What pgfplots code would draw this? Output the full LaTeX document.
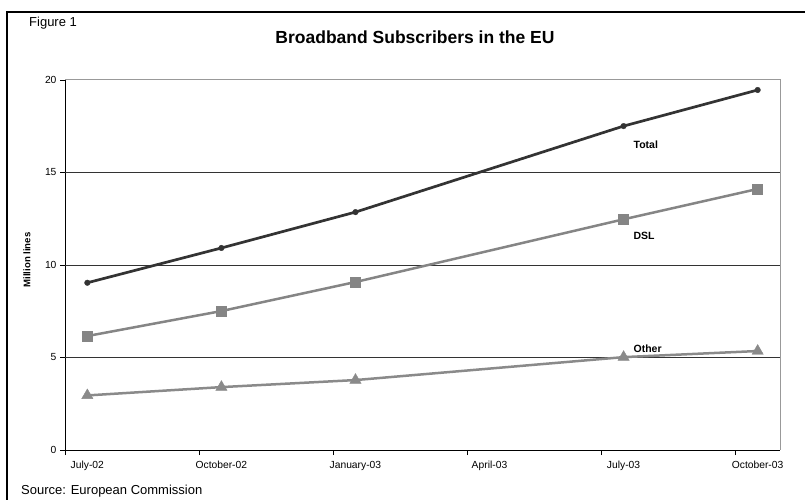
\documentclass[border=0pt]{standalone}
\usepackage{fontspec}
\setmainfont{Liberation Sans}
\usepackage{pgfplots}
\pgfplotsset{compat=1.18}
\definecolor{totalc}{HTML}{333333}
\definecolor{dslc}{HTML}{858585}
\definecolor{otherc}{HTML}{8A8A8A}
\begin{document}
\begin{tikzpicture}[x=1pt,y=1pt]
\useasboundingbox (0,0) rectangle (805,500);
\draw[line width=1.5pt] (7,-2) -- (7,488) -- (807,488);
\node[anchor=base west, inner sep=0pt, font=\fontsize{13}{15}\selectfont] at (29,473.3) {Figure 1};
\node[anchor=base, inner sep=0pt, font=\bfseries\fontsize{17.5}{20}\selectfont] at (415,456) {Broadband Subscribers in the EU};
\node[anchor=base west, inner sep=0pt, font=\fontsize{13}{15}\selectfont] at (21,5) {Source: European Commission};
\node[rotate=90, inner sep=0pt, font=\bfseries\fontsize{9.6}{11}\selectfont] at (27,240) {Million lines};
\begin{axis}[at={(65pt,50pt)}, anchor=south west, scale only axis,
  width=715pt, height=370pt,
  xmin=0, xmax=16, ymin=0, ymax=20,
  xtick={0,3,6,9,12,15},
  xticklabels={July-02,October-02,January-03,April-03,July-03,October-03},
  ytick={0,5,10,15,20},
  axis x line=bottom, axis y line=left,
  axis line style={-, black, line width=0.8pt},
  tick align=outside, major tick length=5pt,
  tick style={black, line width=0.8pt},
  xticklabel style={xshift=22.3pt, yshift=-3pt, font=\fontsize{10.3}{12}\selectfont},
  yticklabel style={font=\fontsize{10.3}{12}\selectfont},
  /pgf/number format/assume math mode=true,
  clip=false,
]
\draw[color=black!80, line width=0.8pt] (axis cs:0,5) -- (axis cs:16,5);
\draw[color=black!80, line width=0.8pt] (axis cs:0,10) -- (axis cs:16,10);
\draw[color=black!80, line width=0.8pt] (axis cs:0,15) -- (axis cs:16,15);
\draw[color=black!40, line width=1pt] (axis cs:0,20) -- (axis cs:16,20) -- (axis cs:16,0);

\addplot[totalc, line width=2.7pt, mark=*, mark size=2.8pt, mark options={line width=0.4pt}]
  coordinates {(0.5,9.04)(3.5,10.92)(6.5,12.86)(12.5,17.51)(15.5,19.46)};
\addplot[dslc, line width=2.5pt, mark=square*, mark size=5pt, mark options={line width=0.4pt}]
  coordinates {(0.5,6.16)(3.5,7.51)(6.5,9.08)(12.5,12.47)(15.5,14.11)};
\addplot[otherc, line width=2.5pt, mark=triangle*, mark size=6.5pt, mark options={line width=0.4pt}]
  coordinates {(0.5,2.95)(3.5,3.40)(6.5,3.78)(12.5,5.02)(15.5,5.35)};

\node[anchor=west, inner sep=0pt, font=\bfseries\fontsize{10.5}{12}\selectfont] at (axis cs:12.72,16.49) {Total};
\node[anchor=west, inner sep=0pt, font=\bfseries\fontsize{10.5}{12}\selectfont] at (axis cs:12.72,11.57) {DSL};
\node[anchor=west, inner sep=0pt, font=\bfseries\fontsize{10.5}{12}\selectfont] at (axis cs:12.72,5.48) {Other};
\end{axis}
\end{tikzpicture}
\end{document}
